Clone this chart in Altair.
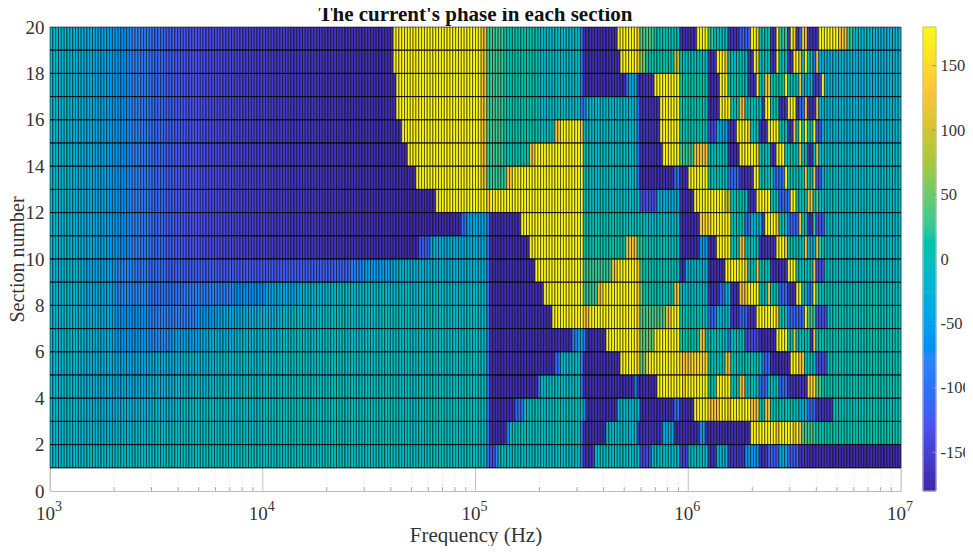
import altair as alt
import numpy as np
import pandas as pd

alt.data_transformers.disable_max_rows()

TITLE = "The current's phase in each section"
FONT = "Liberation Serif"
TEXT = "#333333"
PARULA = ["#3E26A8", "#4852F4", "#2D87F7", "#12B1D6", "#37C897", "#ABC739", "#FEC338", "#F9FB15"]
STOPS = [-180 + 360 * i / 7 for i in range(8)]

N_SAMPLES = 300
FREQ_EDGES = np.logspace(3, 7, N_SAMPLES + 1)

# each segment: (end sample index, phase in degrees)
LOW_UPPER = [(4,-12),(8,-20),(12,-28),(16,-36),(20,-44),(24,-54),(28,-66),(32,-80),(36,-94),(40,-108),(44,-118),
             (48,-126),(52,-130),(56,-134),(62,-140),(68,-146),(76,-151),(84,-156),(94,-160),(104,-164),(114,-168),
             (124,-171),(301,-174)]
LOW_9 = [(12,-18),(23,-45),(30,-75),(35,-90),(41,-105),(59,-118),(82,-125),(100,-120),(106,-115),(110,-85),(116,-55)]
LOW_8 = [(12,-15),(23,-40),(35,-75),(47,-100),(65,-85),(76,-70),(88,-40),(100,-20)]
LOW_7 = [(12,-15),(23,-35),(35,-65),(52,-85),(59,-60),(70,-40),(82,-25),(94,-12)]
LOW_6 = [(12,-12),(23,-30),(35,-60),(43,-75),(53,-50),(65,-30),(82,-15)]
LOW_5 = [(12,-12),(23,-28),(35,-40),(47,-30),(59,-20),(76,-8)]
LOW_4 = [(12,-12),(23,-30),(35,-35),(47,-25),(59,-15),(76,-5)]
LOW_3 = [(12,-12),(23,-28),(35,-25),(47,-18),(76,-5)]
LOW_2 = [(12,-12),(23,-22),(35,-18),(76,-5)]
LOW_1 = [(12,-14),(40,-8)]

SECTION_19 = [(152,176),(154,125),(160,28),(172,12),(187,-8),(188,-100),(200,-170),(207,176),(208,125),(213,35),(222,8),(228,-170),(232,176),(234,25),(239,5),(243,-165),(247,-115),(249,176),(250,125),(254,8),(256,-165),(257,176),(260,25),(261,-165),(262,176),(263,125),(264,-165),(265,-110),(267,125),(271,-165),(278,176),(281,125),(283,30),(290,-10),(301,-25)]
SECTION_18 = [(152,176),(154,125),(160,28),(172,12),(187,-8),(188,-100),(201,-170),(207,176),(208,125),(210,60),(220,12),(222,90),(232,0),(235,-165),(238,176),(239,125),(246,0),(248,-165),(249,176),(250,125),(254,5),(256,-165),(257,176),(260,5),(262,-165),(264,176),(265,125),(266,5),(267,176),(269,5),(270,-110),(271,125),(301,-25)]
SECTION_17 = [(152,176),(154,125),(160,28),(172,12),(187,-8),(188,-100),(203,-170),(204,-110),(207,-35),(213,-165),(222,176),(232,15),(236,-170),(239,176),(246,8),(249,-165),(250,176),(252,8),(254,125),(259,15),(260,176),(264,5),(265,125),(269,-20),(272,-150),(273,176),(301,-25)]
SECTION_16 = [(152,176),(154,125),(160,28),(172,12),(187,-8),(189,-90),(207,-12),(208,-110),(215,-165),(222,176),(232,10),(236,-170),(240,176),(243,8),(245,125),(251,5),(252,-165),(254,176),(257,5),(260,-165),(263,176),(264,-165),(266,-110),(267,125),(270,-165),(271,125),(301,-20)]
SECTION_15 = [(152,176),(154,125),(160,28),(172,12),(178,0),(180,125),(187,176),(188,125),(207,-8),(208,-110),(215,-165),(222,176),(232,8),(235,-140),(239,-40),(242,-165),(246,176),(247,125),(250,5),(253,-165),(257,176),(260,5),(262,-165),(263,125),(264,5),(265,176),(266,5),(267,176),(269,5),(270,176),(272,-130),(301,-20)]
SECTION_14 = [(152,176),(154,125),(160,28),(169,10),(171,125),(188,176),(207,-5),(208,-100),(216,-165),(222,176),(227,25),(232,130),(239,5),(243,-170),(249,176),(250,125),(254,5),(256,-165),(259,176),(264,5),(265,125),(267,5),(269,-165),(270,5),(271,125),(301,-10)]
SECTION_13 = [(152,176),(154,125),(161,25),(163,125),(188,176),(207,-5),(208,-110),(220,-170),(222,-100),(225,-170),(232,176),(239,5),(243,-110),(248,-165),(250,176),(255,5),(259,-100),(260,176),(266,5),(267,125),(269,5),(270,125),(272,-130),(301,-10)]
SECTION_12 = [(154,176),(155,125),(188,176),(208,-5),(214,-135),(222,-30),(227,-170),(238,176),(240,90),(246,5),(249,-165),(254,176),(257,5),(261,-110),(263,176),(267,5),(269,125),(270,5),(271,40),(301,-5)]
SECTION_11 = [(147,-100),(154,-40),(155,-100),(166,-170),(188,176),(209,5),(222,-5),(229,-170),(233,150),(240,176),(245,5),(247,-110),(251,-20),(252,-165),(256,176),(257,125),(260,5),(264,-110),(265,125),(267,5),(269,-165),(270,30),(273,-130),(301,-10)]
SECTION_10 = [(134,-120),(154,-30),(155,-100),(169,-170),(188,176),(203,12),(207,125),(209,25),(222,5),(229,-170),(232,-50),(235,-170),(240,176),(243,5),(245,125),(250,5),(256,-165),(259,176),(260,125),(266,5),(267,125),(270,-25),(271,125),(272,30),(301,-5)]
SECTION_9 = [(121,-50),(154,-22),(155,-100),(171,-170),(188,176),(198,25),(200,125),(207,176),(208,125),(209,25),(222,8),(224,-170),(232,-20),(238,-170),(245,176),(246,125),(249,8),(250,125),(254,5),(260,-165),(263,176),(269,5),(270,125),(273,-135),(301,-5)]
SECTION_8 = [(154,-10),(155,-100),(174,-170),(188,176),(193,25),(195,125),(207,176),(208,125),(209,50),(220,8),(222,125),(232,-10),(236,-165),(238,-110),(240,-20),(243,-170),(246,125),(250,176),(253,5),(254,125),(257,5),(260,-110),(263,-165),(265,176),(267,5),(269,-100),(270,176),(271,30),(301,3)]
SECTION_7 = [(154,-5),(155,-100),(177,-170),(188,176),(190,125),(207,176),(208,125),(217,35),(219,125),(222,176),(232,5),(235,-110),(240,-15),(243,-165),(246,-110),(249,-165),(256,176),(257,125),(260,5),(266,-110),(267,176),(270,30),(274,-135),(301,5)]
SECTION_6 = [(154,-5),(155,-100),(184,-170),(186,-90),(188,-40),(189,-100),(196,-170),(207,176),(208,125),(213,45),(222,176),(229,12),(231,125),(239,5),(240,-100),(245,0),(250,-140),(256,-170),(260,176),(262,5),(263,125),(268,5),(269,-165),(270,125),(301,8)]
SECTION_5 = [(154,-2),(155,-100),(178,-170),(180,-100),(187,-10),(188,-80),(201,-170),(207,176),(208,125),(210,45),(211,125),(222,176),(226,125),(232,150),(238,8),(240,125),(251,5),(254,-110),(261,-170),(264,176),(266,125),(270,5),(274,-140),(301,8)]
SECTION_4 = [(154,0),(155,-100),(172,-170),(173,-90),(187,-5),(188,-90),(206,-170),(207,-70),(214,-170),(223,176),(224,125),(232,176),(235,8),(240,176),(243,5),(245,125),(250,5),(253,-110),(257,0),(260,-110),(267,-165),(270,150),(272,35),(301,10)]
SECTION_3 = [(154,0),(155,-100),(164,-170),(167,-100),(188,0),(189,-90),(200,-170),(208,-10),(220,-170),(222,-100),(227,-170),(232,176),(236,130),(239,176),(240,125),(247,176),(250,125),(252,5),(254,125),(264,5),(267,-30),(270,-110),(276,-165),(301,5)]
SECTION_2 = [(154,0),(155,-100),(161,-170),(162,-90),(187,0),(188,-90),(196,-170),(207,-10),(216,-165),(220,-30),(229,-170),(231,-50),(247,-170),(256,176),(257,125),(262,176),(263,125),(264,176),(265,125),(270,30),(301,12)]
SECTION_1 = [(154,-2),(155,-100),(157,-135),(158,-80),(187,-5),(188,-100),(192,-165),(208,-5),(212,-140),(222,-5),(225,-150),(232,-5),(235,-165),(239,-25),(245,-160),(250,-60),(253,-165),(257,-120),(260,-30),(264,-120),(267,-165),(275,-170),(301,-175)]

# section: (low-frequency profile, sample where the section's own list takes over, own list)
SECTIONS = {
    19: (LOW_UPPER, 121, SECTION_19), 18: (LOW_UPPER, 121, SECTION_18), 17: (LOW_UPPER, 122, SECTION_17),
    16: (LOW_UPPER, 122, SECTION_16), 15: (LOW_UPPER, 124, SECTION_15), 14: (LOW_UPPER, 126, SECTION_14),
    13: (LOW_UPPER, 129, SECTION_13), 12: (LOW_UPPER, 136, SECTION_12), 11: (LOW_UPPER, 145, SECTION_11),
    10: (LOW_UPPER, 130, SECTION_10), 9: (LOW_9, 116, SECTION_9), 8: (LOW_8, 100, SECTION_8),
    7: (LOW_7, 94, SECTION_7), 6: (LOW_6, 82, SECTION_6), 5: (LOW_5, 76, SECTION_5),
    4: (LOW_4, 76, SECTION_4), 3: (LOW_3, 76, SECTION_3), 2: (LOW_2, 76, SECTION_2), 1: (LOW_1, 40, SECTION_1),
}

Y_TICKS = list(range(0, 21, 2))
CB_TICKS = [-150, -100, -50, 0, 50, 100, 150]
DECADES = [3, 4, 5, 6, 7]
MINOR_MULTS = [2, 3, 4, 5, 6, 7, 8, 9]


def expand(low, start, own):
    vals = [0] * N_SAMPLES
    prev = 0
    for end, v in low:
        for c in range(prev, min(end, start)):
            vals[c] = v
        prev = end
    prev = start
    for end, v in own:
        for c in range(prev, min(end, N_SAMPLES)):
            vals[c] = v
        prev = end
    return vals


rows = []
for sec, (low, start, own) in SECTIONS.items():
    for c, v in enumerate(expand(low, start, own)):
        rows.append({"f0": float(FREQ_EDGES[c]), "f1": float(FREQ_EDGES[c + 1]), "s0": sec, "s1": sec + 1, "phase": v})
cells = pd.DataFrame(rows)

major = pd.DataFrame({"f": [10.0 ** d for d in DECADES], "lab": ["10"] * 5, "exp": [str(d) for d in DECADES]})
minor = pd.DataFrame({"f": [m * 10.0 ** d for d in DECADES[:-1] for m in MINOR_MULTS]})
lines = pd.DataFrame({"s": list(range(1, 20)), "a": 1e3, "b": 1e7})

x_scale = alt.Scale(type="log", domain=[1e3, 1e7], nice=False)
y_scale = alt.Scale(domain=[0, 20], nice=False)
c_scale = alt.Scale(domain=STOPS, range=PARULA)
cb_scale = alt.Scale(domain=[-180, 180], nice=False)

base_x = alt.X("f:Q", scale=x_scale, axis=None)
y0 = alt.Y(datum=0, scale=y_scale, axis=None)

x_axis = alt.Axis(
    values=[1000], title="Frequency (Hz)", titleFont=FONT, titleFontSize=21, titleFontWeight="normal", titleColor=TEXT,
    titleX=425.5, titleY=50, titleBaseline="alphabetic", titleAlign="center",
    grid=False, ticks=False, labels=False, domainColor="#bdbdbd", domainWidth=1,
)
y_axis = alt.Axis(
    values=Y_TICKS, title="Section number", titleFont=FONT, titleFontSize=20, titleFontWeight="normal", titleColor=TEXT,
    titleX=-27, titleY=232, titleBaseline="alphabetic", titleAlign="center", titleAngle=-90,
    grid=False, tickSize=0, labelFont=FONT, labelFontSize=19, labelColor=TEXT, labelPadding=6,
    domainColor="#bdbdbd", domainWidth=1, labelFlush=False,
)

grid_major = alt.Chart(major).mark_rule(color="#c4c4c4", strokeWidth=1).encode(x=base_x, y=y0, y2=alt.datum(1))
grid_minor = alt.Chart(minor).mark_rule(color="#e6e6e6", strokeWidth=1, strokeDash=[1, 2]).encode(x=base_x, y=y0, y2=alt.datum(1))
tick_minor = alt.Chart(minor).mark_rule(color="#a8a8a8", strokeWidth=1).encode(x=base_x, y=y0, y2=alt.datum(0.16))

heat = alt.Chart(cells).mark_rect(stroke="black", strokeWidth=0.55).encode(
    x=alt.X("f0:Q", scale=x_scale, axis=x_axis),
    x2="f1:Q",
    y=alt.Y("s0:Q", scale=y_scale, axis=y_axis),
    y2="s1:Q",
    color=alt.Color("phase:Q", scale=c_scale, legend=None),
)
row_lines = alt.Chart(lines).mark_rule(color="black", strokeWidth=1, opacity=0.75).encode(
    x=alt.X("a:Q", scale=x_scale, axis=None), x2="b:Q", y=alt.Y("s:Q", scale=y_scale, axis=None))

lab10 = alt.Chart(major).mark_text(font=FONT, fontSize=19, color=TEXT, align="right", dx=5, baseline="alphabetic").encode(
    x=base_x, y=alt.value(493), text="lab:N")
labexp = alt.Chart(major).mark_text(font=FONT, fontSize=14, color=TEXT, align="left", dx=5, baseline="alphabetic").encode(
    x=base_x, y=alt.value(484), text="exp:N")

main = alt.layer(grid_minor, grid_major, tick_minor, heat, row_lines, lab10, labexp).resolve_axis(x="independent", y="independent")

CB_LEVELS = list(range(-180, 180, 3))
cb_df = pd.DataFrame({"lo": CB_LEVELS, "hi": [v + 3 for v in CB_LEVELS], "mid": [v + 1.5 for v in CB_LEVELS]})
cb_axis = alt.Axis(
    values=CB_TICKS, orient="right", offset=35, title=None, domain=False, ticks=False, grid=False,
    labelFont=FONT, labelFontSize=16.5, labelColor=TEXT, labelPadding=4, labelLimit=100,
    labelExpr="'' + datum.value",
)
cbar = alt.Chart(cb_df).mark_rect(strokeWidth=1).encode(
    x=alt.value(873), x2=alt.value(886),
    y=alt.Y("lo:Q", scale=cb_scale, axis=cb_axis), y2="hi:Q",
    color=alt.Color("mid:Q", scale=c_scale, legend=None),
    stroke=alt.Stroke("mid:Q", scale=c_scale, legend=None),
)
cb_tick = alt.Chart(pd.DataFrame({"v": CB_TICKS})).mark_rule(color="#8a8a8a", strokeWidth=1).encode(
    x=alt.value(882), x2=alt.value(886), y=alt.Y("v:Q", scale=cb_scale, axis=None))
cb_frame = alt.Chart(pd.DataFrame({"a": [-180], "b": [180]})).mark_rect(fillOpacity=0, stroke="#bdbdbd", strokeWidth=1).encode(
    x=alt.value(873), x2=alt.value(886), y=alt.Y("a:Q", scale=cb_scale, axis=None), y2="b:Q")
cb = alt.layer(cbar, cb_tick, cb_frame).resolve_axis(y="independent")

chart = (
    alt.layer(main, cb)
    .resolve_scale(y="independent")
    .resolve_axis(x="independent", y="independent")
    .properties(
        width=851,
        height=464,
        padding={"left": 42, "top": 19, "right": 64, "bottom": 55},
        autosize=alt.AutoSizeParams(type="none"),
        title=alt.TitleParams(TITLE, font=FONT, fontSize=21, fontWeight="bold", color="#111111", anchor="middle", offset=-7),
    )
    .configure_view(stroke="#bdbdbd", strokeWidth=1)
    .configure(background="white")
)
chart.save("out.html", embed_options={"renderer": "svg", "actions": False})
